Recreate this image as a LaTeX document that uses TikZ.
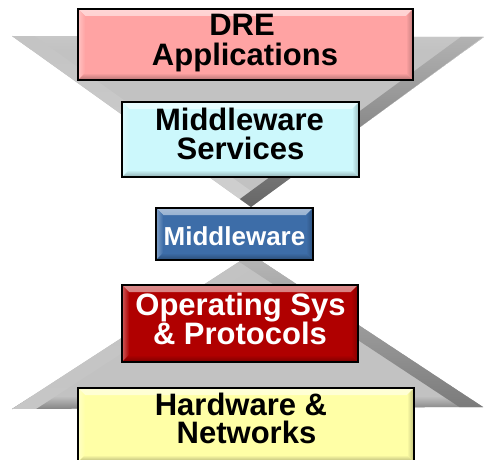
\documentclass[tikz,border=0pt]{standalone}
\usepackage{fontspec}
\setmainfont{Liberation Sans}

\definecolor{appfill}{HTML}{FFA3A3}
\definecolor{svcfill}{HTML}{CCF8FC}
\definecolor{mwfill}{HTML}{3D6DA8}
\definecolor{osfill}{HTML}{B00000}
\definecolor{hwfill}{HTML}{FFFFA6}
\definecolor{prism}{HTML}{C2C2C2}

% soft bevelled rim inside a box (drawn as its path picture)
\newcommand\bevelrim[1]{%
  \def\pb{path picture bounding box}%
  \shade[top color=#1!45!white, bottom color=#1]
    (\pb.north west) -- (\pb.north east) -- ([shift={(-7pt,-7pt)}]\pb.north east)
    -- ([shift={(7pt,-7pt)}]\pb.north west) -- cycle;
  \shade[left color=#1!65!white, right color=#1]
    (\pb.north west) -- ([shift={(7pt,-7pt)}]\pb.north west)
    -- ([shift={(7pt,7pt)}]\pb.south west) -- (\pb.south west) -- cycle;
  \shade[top color=#1, bottom color=#1!70!black]
    (\pb.south west) -- ([shift={(7pt,7pt)}]\pb.south west)
    -- ([shift={(-7pt,7pt)}]\pb.south east) -- (\pb.south east) -- cycle;
  \shade[left color=#1, right color=#1!75!black]
    (\pb.south east) -- ([shift={(-7pt,7pt)}]\pb.south east)
    -- ([shift={(-7pt,-7pt)}]\pb.north east) -- (\pb.north east) -- cycle;
}

\tikzset{
  layer/.style={rectangle, draw=black, line width=1.8pt, fill=#1, inner sep=0pt,
    path picture={\bevelrim{#1}}},
  caption/.style={anchor=base, inner sep=0pt,
    font=\fontsize{31}{31}\selectfont\bfseries},
  smallcaption/.style={anchor=base, inner sep=0pt,
    font=\fontsize{26}{26}\selectfont\bfseries},
}

\begin{document}
\begin{tikzpicture}[x=1pt, y=-1pt]
\useasboundingbox (0,0) rectangle (485,460);

% ---- funnel (inverted prism) ----
\coordinate (fA) at (12,36);
\coordinate (fB) at (484,37);
\coordinate (fC) at (251,207);
\begin{scope}
  \clip (fA) -- (fB) -- (fC) -- cycle;
  \fill[prism] (fA) -- (fB) -- (fC) -- cycle;
  \shade[top color=black!22, middle color=white, bottom color=prism] (0,36) rectangle (485,50);
  \begin{scope}[shift={(fA)}, rotate=-35.58]
    \shade[bottom color=black!18, middle color=black!60, top color=prism]
      (-20pt,0pt) rectangle (330pt,13pt);
  \end{scope}
  \begin{scope}[shift={(fC)}, rotate=36.27]
    \shade[bottom color=black!62, middle color=black!30, top color=prism]
      (-20pt,0pt) rectangle (330pt,13pt);
  \end{scope}
\end{scope}

% ---- base (upright prism) ----
\coordinate (pD) at (251,254);
\coordinate (pE) at (12,409);
\coordinate (pF) at (483,407);
\begin{scope}
  \clip (pD) -- (pE) -- (pF) -- cycle;
  \fill[prism] (pD) -- (pE) -- (pF) -- cycle;
  \shade[top color=prism, bottom color=black!50] (0,396) rectangle (485,410);
  \begin{scope}[shift={(pD)}, rotate=-147.03]
    \shade[bottom color=black!22, middle color=white, top color=prism]
      (-20pt,0pt) rectangle (330pt,13pt);
  \end{scope}
  \begin{scope}[shift={(pF)}, rotate=146.60]
    \shade[bottom color=black!55, middle color=black!12, top color=prism]
      (-20pt,0pt) rectangle (330pt,13pt);
  \end{scope}
\end{scope}

% ---- layers ----
\node[layer=appfill, minimum width=335pt, minimum height=71pt] (app) at (245.5,44.5) {};
\node[layer=svcfill, minimum width=237pt, minimum height=75pt] (svc) at (240.5,139.5) {};
\node[layer=mwfill,  minimum width=157pt, minimum height=52pt] (mw)  at (234.5,234) {};
\node[layer=osfill,  minimum width=236pt, minimum height=77pt] (os)  at (240,323.5) {};
\node[layer=hwfill,  minimum width=336pt, minimum height=74pt] (hw)  at (246,425) {};

% ---- captions ----
\node[caption] (appA) at (242,36)  {DRE};
\node[caption] (appB) at (245,66)  {Applications};
\node[caption] (svcA) at (239.5,130) {Middleware};
\node[caption] (svcB) at (240.5,159.5) {Services};
\node[smallcaption, text=white] (mwA) at (234.5,245) {Middleware};
\node[caption, text=white] (osA) at (240.5,315) {Operating Sys};
\node[caption, text=white] (osB) at (240,344) {\& Protocols};
\node[caption] (hwA) at (241,415) {Hardware \&};
\node[caption] (hwB) at (246.5,443) {Networks};
\end{tikzpicture}
\end{document}
